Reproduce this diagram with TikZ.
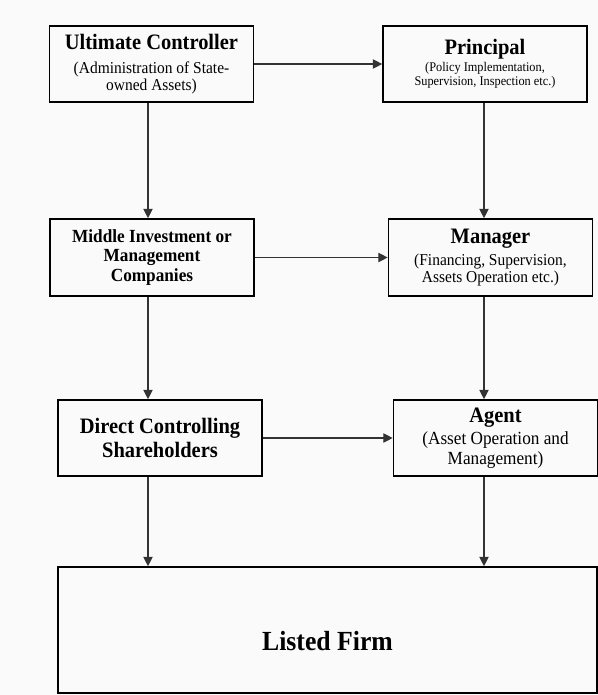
\documentclass[tikz,border=0pt]{standalone}
\usepackage{fontspec}
\setmainfont{Liberation Serif}[FakeStretch=0.93]
\usetikzlibrary{arrows.meta}

\lineskiplimit=-20pt
\newcommand\bigttl{\fontsize{18.8}{20.7}\selectfont\bfseries}
\newcommand\midttl{\fontsize{15.8}{17}\selectfont\bfseries}
\newcommand\subtxt{\fontsize{14.2}{14.2}\selectfont}
\newcommand\mgrtxt{\fontsize{14.2}{14.4}\selectfont}
\newcommand\agtxt{\fontsize{15.8}{17}\selectfont}
\newcommand\smalltxt{\fontsize{11.3}{11.9}\selectfont}

\tikzset{
  box/.style={draw, line width=1.4pt, minimum width=6.12cm, minimum height=2.28cm, align=center, inner sep=0pt},
  arr/.style={-{Triangle[length=8pt,width=8pt]}, line width=0.95pt, black!80},
}

\begin{document}
\begin{tikzpicture}[x=0.03cm, y=-0.03cm]
    \fill[black!2] (0,0) rectangle (598,695);
    \useasboundingbox (0,0) rectangle (598,695);

    % left column
    \node[box, font=\subtxt] (uc) at (151.5,64) {{\bigttl Ultimate Controller}\\[6pt] (Administration of State-\\ owned Assets)};
    \node[box, font=\midttl, minimum height=2.31cm] (mid) at (152,257.5) {Middle Investment or\\ Management\\ Companies};
    \node[box, font=\bigttl] (dcs) at (160,438) {Direct Controlling\\ Shareholders};

    % right column
    \node[box, font=\smalltxt] (prin) at (485,64) {{\bigttl Principal}\\[2.8pt] (Policy Implementation,\\ Supervision, Inspection etc.)};
    \node[box, font=\mgrtxt, minimum height=2.31cm] (mgr) at (490.5,257.5) {{\bigttl Manager}\\[4.2pt] (Financing, Supervision,\\ Assets Operation etc.)};
    \node[box, font=\agtxt] (agent) at (495.5,438) {{\bigttl Agent}\\[1.4pt] (Asset Operation and\\ Management)};

    \node[box, minimum width=16.17cm, minimum height=3.78cm, font={\fontsize{23.6}{26}\selectfont\bfseries}] (firm) at (327.5,630) {\raisebox{-0.33cm}[\height][\depth]{Listed Firm}};

    \coordinate (lcol) at (148,0);
    \coordinate (rcol) at (484,0);

    \draw[arr] (uc.south -| lcol) -- (mid.north -| lcol);
    \draw[arr] (mid.south -| lcol) -- (dcs.north -| lcol);
    \draw[arr] (dcs.south -| lcol) -- (firm.north -| lcol);

    \draw[arr] (prin.south -| rcol) -- (mgr.north -| rcol);
    \draw[arr] (mgr.south -| rcol) -- (agent.north -| rcol);
    \draw[arr] (agent.south -| rcol) -- (firm.north -| rcol);

    \draw[arr] (uc) -- (prin);
    \draw[arr] (mid) -- (mgr);
    \draw[arr] (dcs) -- (agent);
\end{tikzpicture}
\end{document}
